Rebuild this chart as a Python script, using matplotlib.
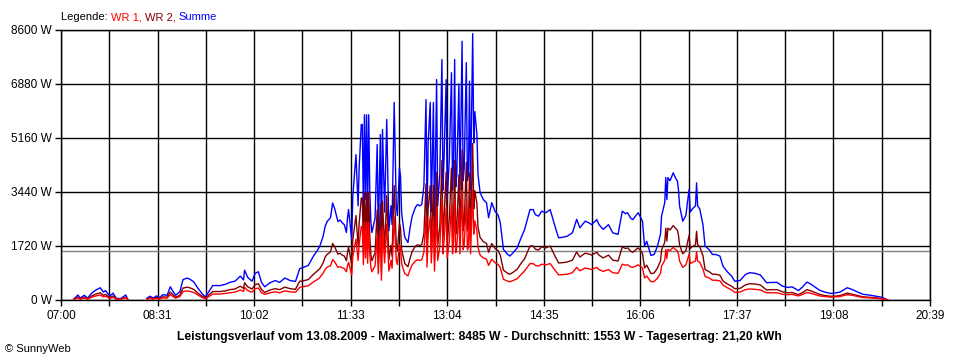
import numpy as np
import matplotlib
matplotlib.use('Agg')
import matplotlib.pyplot as plt
from matplotlib.ticker import FixedLocator, FuncFormatter

plt.rcParams['font.family'] = ['Liberation Sans', 'DejaVu Sans']

# Messwerte (Uhrzeit, WR 1, WR 2 in Watt)
zeit = ['07:12', '07:16', '07:18', '07:22', '07:25', '07:29', '07:33', '07:37', '07:40', '07:42',
        '07:46', '07:49', '07:52', '07:56', '08:01', '08:03', '08:10', '08:21', '08:24', '08:27',
        '08:30', '08:33', '08:36', '08:40', '08:43', '08:46', '08:48', '08:52', '08:55', '08:59',
        '09:02', '09:05', '09:09', '09:13', '09:16', '09:19', '09:23', '09:30', '09:35', '09:39',
        '09:44', '09:49', '09:52', '09:53', '09:56', '10:00', '10:03', '10:06', '10:09', '10:12',
        '10:17', '10:22', '10:26', '10:31', '10:36', '10:41', '10:45', '10:47', '10:53', '10:58',
        '11:02', '11:04', '11:07', '11:09', '11:11', '11:14', '11:16', '11:18', '11:21', '11:23',
        '11:25', '11:27', '11:29', '11:30', '11:31', '11:34', '11:35', '11:38', '11:40', '11:41',
        '11:43', '11:44', '11:45', '11:46', '11:47', '11:48', '11:49', '11:50', '11:51', '11:52',
        '11:53', '11:56', '11:58', '11:59', '12:01', '12:02', '12:03', '12:05', '12:07', '12:09',
        '12:11', '12:12', '12:14', '12:16', '12:17', '12:19', '12:20', '12:21', '12:22', '12:24',
        '12:27', '12:29', '12:31', '12:34', '12:36', '12:38', '12:40', '12:42', '12:44', '12:45',
        '12:46', '12:48', '12:49', '12:51', '12:52', '12:53', '12:54', '12:55', '12:57', '12:59',
        '13:00', '13:01', '13:03', '13:04', '13:06', '13:08', '13:09', '13:10', '13:11', '13:12',
        '13:13', '13:15', '13:16', '13:18', '13:19', '13:20', '13:22', '13:23', '13:24', '13:25',
        '13:26', '13:28', '13:29', '13:30', '13:32', '13:33', '13:35', '13:38', '13:41', '13:43',
        '13:46', '13:49', '13:52', '13:54', '13:57', '14:01', '14:03', '14:06', '14:10', '14:13',
        '14:17', '14:22', '14:25', '14:27', '14:30', '14:33', '14:37', '14:41', '14:46', '14:49',
        '14:53', '14:57', '15:02', '15:06', '15:09', '15:14', '15:18', '15:20', '15:25', '15:27',
        '15:31', '15:36', '15:40', '15:45', '15:49', '15:52', '15:54', '15:57', '15:59', '16:02',
        '16:04', '16:06', '16:08', '16:10', '16:12', '16:16', '16:19', '16:22', '16:25', '16:26',
        '16:29', '16:30', '16:31', '16:32', '16:34', '16:37', '16:39', '16:41', '16:42', '16:43',
        '16:46', '16:49', '16:50', '16:52', '16:53', '16:55', '16:58', '16:59', '17:00', '17:02',
        '17:05', '17:07', '17:11', '17:14', '17:17', '17:21', '17:24', '17:28', '17:32', '17:35',
        '17:40', '17:45', '17:49', '17:54', '17:59', '18:05', '18:10', '18:15', '18:20', '18:25',
        '18:29', '18:35', '18:39', '18:43', '18:46', '18:49', '18:55', '19:00', '19:05', '19:09',
        '19:14', '19:21', '19:26', '19:31', '19:36', '19:41', '19:45', '19:50', '19:54', '19:58',
        '19:59']

nan = float('nan')

wr1 = [10, 70, 30, 60, 30, 90, 130, 160, 100, 120,
       50, 90, 30, 20, 70, 10, nan, 30, 50, 30,
       50, 30, 70, 60, 170, 100, 60, 110, 270, 290,
       270, 240, 160, 80, 40, 100, 190, 190, 210, 230,
       250, 320, 270, 400, 300, 250, 360, 380, 230, 180,
       230, 260, 230, 290, 260, 250, 400, 420, 450, 580,
       660, 720, 850, 980, 1050, 1090, 1290, 1210, 1040, 1060,
       1030, 1000, 900, 1090, 1200, 800, 1380, 1940, 1260, 1760,
       2340, 2340, 1130, 2470, 1340, 2470, 1170, 2470, 1470, 1050,
       900, 1090, 2080, 840, 2210, 630, 2280, 1180, 2420, 920,
       1260, 1010, 2640, 1260, 1130, 1760, 1650, 1180, 1050, 840,
       770, 970, 1120, 1240, 1280, 1260, 1280, 1520, 2680, 1050,
       2100, 2640, 1180, 2640, 920, 1890, 2950, 1260, 1680, 3220,
       1470, 1890, 2950, 1340, 1890, 3040, 1470, 1890, 3220, 1510,
       1680, 2890, 1470, 3460, 1600, 1760, 3180, 1600, 1680, 2930,
       1470, 3500, 2100, 2520, 2210, 1680, 1430, 1340, 1300, 1100,
       1300, 1190, 1130, 1030, 660, 600, 580, 620, 680, 790,
       930, 1160, 1160, 1100, 1080, 1140, 1120, 1160, 930, 800,
       810, 820, 870, 1040, 930, 1020, 990, 970, 1040, 970,
       910, 970, 870, 850, 1140, 1110, 1120, 1050, 1040, 1090,
       1120, 1070, 1020, 700, 760, 580, 590, 690, 850, 1080,
       1260, 1610, 1320, 1610, 1570, 1680, 1610, 1560, 1450, 1240,
       1040, 1120, 1240, 1460, 1160, 1200, 1240, 1540, 1240, 1200,
       990, 750, 700, 630, 630, 610, 470, 390, 320, 240,
       250, 330, 350, 340, 320, 230, 230, 230, 180, 170,
       180, 130, 180, 240, 220, 190, 130, 110, 90, 100,
       110, 170, 150, 110, 80, 70, 60, 50, 40, 10,
       0]

wr2 = [20, 90, 30, 90, 30, 130, 190, 230, 150, 180,
       70, 130, 30, 20, 90, 10, nan, 30, 70, 30,
       80, 50, 100, 90, 250, 150, 90, 150, 380, 410,
       380, 340, 220, 120, 60, 150, 270, 270, 290, 330,
       350, 440, 370, 550, 420, 350, 490, 520, 330, 240,
       320, 360, 330, 410, 360, 340, 600, 600, 650, 820,
       940, 1000, 1180, 1370, 1460, 1530, 1800, 1690, 1460, 1490,
       1430, 1400, 1250, 1510, 1680, 1120, 1920, 2690, 1740, 2440,
       3250, 3250, 1570, 3430, 1860, 3430, 1630, 3430, 2030, 1450,
       1250, 1510, 2870, 1160, 3060, 870, 3150, 1620, 3330, 1280,
       1740, 1390, 3650, 1740, 1560, 2440, 2290, 1620, 1450, 1160,
       1060, 1330, 1550, 1710, 1760, 1740, 1760, 2100, 3700, 1450,
       2900, 3650, 1620, 3650, 1280, 2610, 4070, 1740, 2320, 4440,
       2030, 2610, 4070, 1860, 2610, 4200, 2030, 2610, 4440, 2090,
       2320, 3990, 2030, 4780, 2200, 2440, 4380, 2200, 2320, 4040,
       2030, 4985, 2900, 3480, 3060, 2320, 1990, 1860, 1800, 1520,
       1800, 1640, 1570, 1430, 950, 850, 820, 880, 980, 1140,
       1320, 1720, 1720, 1620, 1590, 1690, 1660, 1720, 1370, 1180,
       1190, 1210, 1270, 1530, 1370, 1490, 1460, 1430, 1520, 1430,
       1340, 1430, 1270, 1240, 1690, 1640, 1660, 1550, 1520, 1610,
       1660, 1580, 1490, 1020, 1110, 840, 860, 1010, 1240, 1590,
       1840, 2290, 1880, 2290, 2230, 2370, 2290, 2220, 2050, 1750,
       1470, 1580, 1760, 2060, 1640, 1700, 1760, 2190, 1760, 1700,
       1410, 970, 900, 820, 820, 790, 600, 510, 440, 360,
       370, 480, 520, 510, 480, 320, 330, 330, 260, 230,
       240, 170, 240, 330, 300, 260, 180, 140, 120, 120,
       140, 220, 180, 140, 100, 90, 80, 60, 40, 10,
       0]

durchschnitt = 1553
y_ticks = [0, 1720, 3440, 5160, 6880, 8600]
titel = ('Leistungsverlauf vom 13.08.2009 - Maximalwert: 8485 W - '
         'Durchschnitt: 1553 W - Tagesertrag: 21,20 kWh')

# Minuten ab 07:00
t = np.array([int(s[:2]) * 60 + int(s[3:]) - 420 for s in zeit])
wr1 = np.array(wr1, dtype=float)
wr2 = np.array(wr2, dtype=float)
summe = wr1 + wr2

fig = plt.figure(figsize=(9.6, 3.6), dpi=100)
ax = fig.add_axes([61 / 960, 60 / 360, 869 / 960, 270 / 360])

ax.set_xlim(0, 819)
ax.set_ylim(0, 8600)

# Gitter
major_x = np.arange(0, 820, 91)
minor_x = np.arange(45.5, 819, 91)
ax.xaxis.set_major_locator(FixedLocator(major_x))
ax.xaxis.set_minor_locator(FixedLocator(minor_x))
ax.xaxis.set_major_formatter(FuncFormatter(
    lambda v, p: '%02d:%02d' % ((int(round(v)) + 420) // 60, (int(round(v)) + 420) % 60)))
ax.yaxis.set_major_locator(FixedLocator(y_ticks))
ax.yaxis.set_major_formatter(FuncFormatter(lambda v, p: '%d W' % v))

ax.grid(True, which='both', axis='x', color='black', linewidth=1.0)
ax.grid(True, which='major', axis='y', color='black', linewidth=1.0)
ax.set_axisbelow(True)
for s in ax.spines.values():
    s.set_linewidth(1.0)

ax.tick_params(axis='both', which='both', length=4.5, width=1.0, color='black',
               labelsize=8.5, pad=2)
ax.tick_params(axis='x', which='major', pad=3)

ax.axhline(durchschnitt, color='#808080', linewidth=1.0, zorder=1.5)

ax.plot(t, summe, color='#0000ff', linewidth=1.0, zorder=2)
ax.plot(t, wr2, color='#800000', linewidth=1.0, zorder=3)
ax.plot(t, wr1, color='#ff0000', linewidth=1.0, zorder=4)

# Legende als farbige Textstücke
renderer = fig.canvas.get_renderer()
x = 61 / 960
for txt, col in [('Legende: ', 'black'), ('WR 1, ', '#ff0000'),
                 ('WR 2, ', '#800000'), ('Summe', '#0000ff')]:
    tx = fig.text(x, 1 - 17 / 360, txt, color=col, fontsize=8, va='center', ha='left')
    bb = tx.get_window_extent(renderer)
    x = bb.x1 / 960

fig.text(479 / 960, 1 - 337 / 360, titel, fontsize=8.7, fontweight='bold',
         ha='center', va='center')
fig.text(5 / 960, 1 - 349 / 360, '\u00a9 SunnyWeb', fontsize=8, ha='left', va='center')

fig.savefig('out.png', dpi=100, facecolor='white')
